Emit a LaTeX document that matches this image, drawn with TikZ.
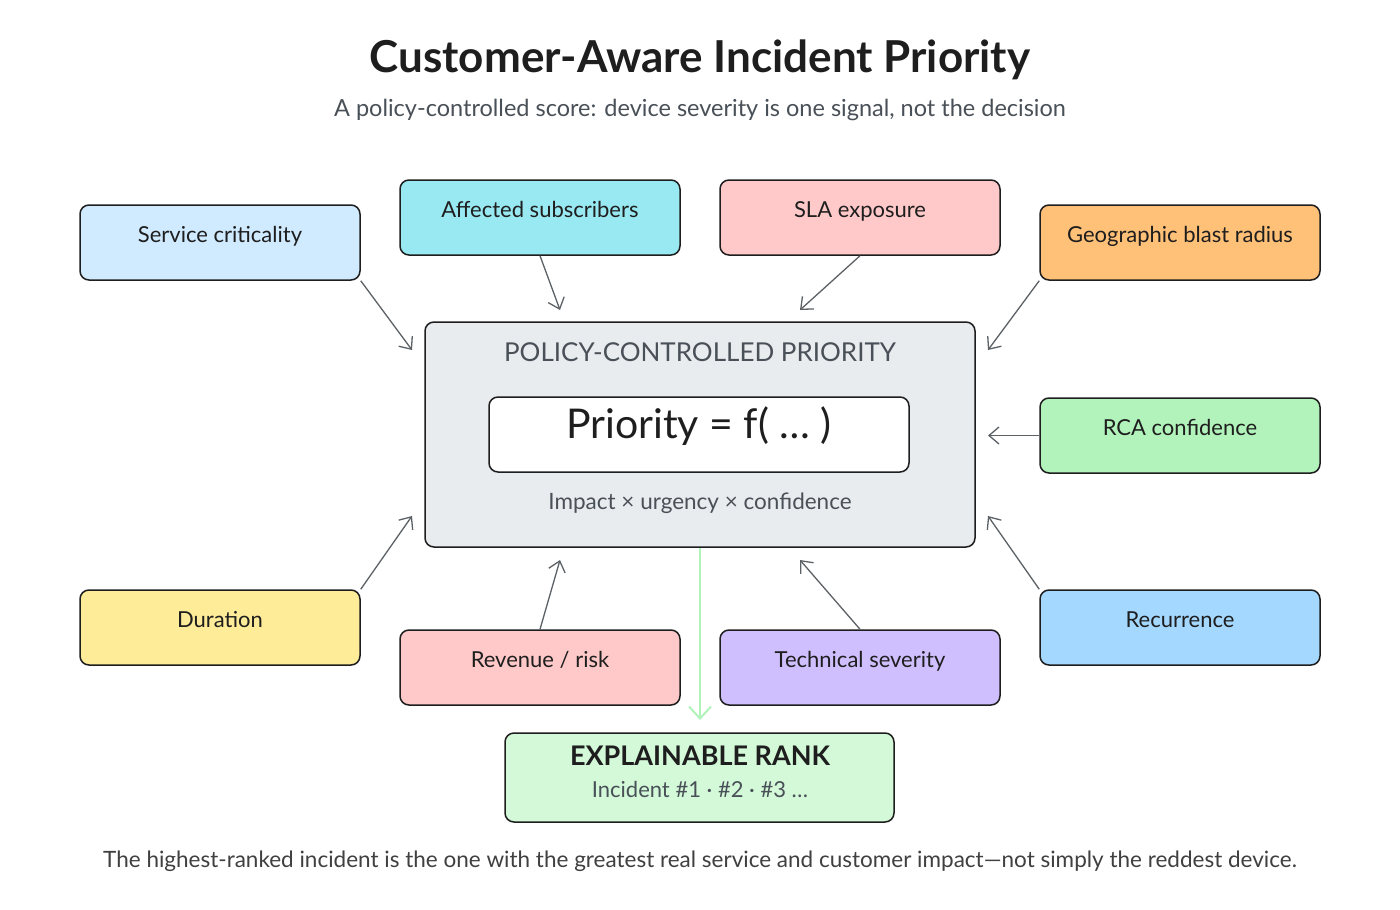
\documentclass[tikz,border=0pt]{standalone}
\usepackage{fontspec}
\setmainfont{Lato}
\usetikzlibrary{positioning,arrows.meta}

\definecolor{ink}{HTML}{1E1E1E}
\definecolor{subgray}{HTML}{495057}
\definecolor{arrowgray}{HTML}{5C6166}
\definecolor{cSvc}{HTML}{D0EBFF}
\definecolor{cAff}{HTML}{99E9F2}
\definecolor{cSla}{HTML}{FFC9C9}
\definecolor{cGeo}{HTML}{FFC078}
\definecolor{cRca}{HTML}{B2F2BB}
\definecolor{cRec}{HTML}{A5D8FF}
\definecolor{cDur}{HTML}{FFEC99}
\definecolor{cRev}{HTML}{FFC9C9}
\definecolor{cTech}{HTML}{D0BFFF}
\definecolor{cMain}{HTML}{E9ECEF}
\definecolor{cRank}{HTML}{D3F9D8}
\definecolor{cFlow}{HTML}{B2F2BB}

\begin{document}
\begin{tikzpicture}[
    x=1pt, y=-1pt,
    every node/.style={font=\fontsize{22}{26}\selectfont, text=ink},
    factor/.style={draw=ink, line width=1.5pt, rounded corners=9pt,
        minimum width=280pt, minimum height=75pt,
        text height=15pt, text depth=15pt, inner sep=0pt},
    feed/.style={draw=arrowgray, line width=1.3pt,
        -{Straight Barb[length=10pt,width=17pt]}}
]

% Canvas
\fill[white] (0,0) rectangle (1400,910);
\useasboundingbox (0,0) rectangle (1400,910);

% Title
\node[anchor=base, font=\fontsize{44}{50}\selectfont\bfseries] (title) at (700,72) {Customer-Aware Incident Priority};
\node[anchor=base, font=\fontsize{23.5}{28}\selectfont, text=subgray] (subtitle) at (700,116) {A policy-controlled score: device severity is one signal, not the decision};

% === Central policy box ===
\node[draw=ink, line width=1.5pt, fill=cMain, rounded corners=9pt,
      minimum width=550pt, minimum height=225pt] (policy) at (700,434.5) {};
\node[anchor=base, font=\fontsize{26}{30}\selectfont, text=subgray] (policyhead) at (700,361) {POLICY-CONTROLLED PRIORITY};
\node[draw=ink, line width=1.5pt, fill=white, rounded corners=9pt,
      minimum width=420pt, minimum height=75pt, inner sep=0pt,
      text height=27pt, text depth=19pt,
      font=\fontsize{41}{46}\selectfont] (formula) at (699,434.5) {Priority = f( … )};
\node[anchor=base, font=\fontsize{22.5}{26}\selectfont, text=subgray] (weights) at (700,509) {Impact × urgency × confidence};

% === Signals (top row) ===
\node[factor, fill=cSvc] (svc) at (220,242.5) {Service criticality};
\node[factor, fill=cAff] (aff) at (540,217.5) {Affected subscribers};
\node[factor, fill=cSla] (sla) at (860,217.5) {SLA exposure};
\node[factor, fill=cGeo] (geo) at (1180,242.5) {Geographic blast radius};

% === Signals (sides) ===
\node[factor, fill=cRca] (rca) at (1180,435.5) {RCA confidence};
\node[factor, fill=cRec] (rec) at (1180,627.5) {Recurrence};
\node[factor, fill=cDur] (dur) at (220,627.5) {Duration};

% === Signals (bottom row) ===
\node[factor, fill=cRev] (rev) at (540,667.5) {Revenue / risk};
\node[factor, fill=cTech] (tech) at (860,667.5) {Technical severity};

% === Output rank ===
\node[draw=ink, line width=1.5pt, fill=cRank, rounded corners=9pt,
      minimum width=389pt, minimum height=89pt] (rank) at (699.5,777.5) {};
\node[anchor=base, font=\fontsize{27}{31}\selectfont\bfseries] (rankhead) at (700,765) {EXPLAINABLE RANK};
\node[anchor=base, font=\fontsize{22}{26}\selectfont, text=subgray] (ranklist) at (700,797) {Incident \#1 · \#2 · \#3 …};

% Footer
\node[anchor=base, font=\fontsize{22.5}{27}\selectfont, text=ink!85] (footer) at (700,867) {The highest-ranked incident is the one with the greatest real service and customer impact—not simply the reddest device.};

% Arrow ends near the policy box
\coordinate (svc-in) at (412,350);
\coordinate (aff-in) at (560,310);
\coordinate (sla-in) at (800,310);
\coordinate (geo-in) at (988,350);
\coordinate (rca-in) at (988,435.5);
\coordinate (rec-in) at (988,516);
\coordinate (dur-in) at (412,516);
\coordinate (rev-in) at (560,560);
\coordinate (tech-in) at (800,560);
\coordinate (rank-in) at (700,720);

% === Feeds into priority ===
\draw[feed] (svc.south east) -- (svc-in);
\draw[feed] (aff.south) -- (aff-in);
\draw[feed] (sla.south) -- (sla-in);
\draw[feed] (geo.south west) -- (geo-in);
\draw[feed] (rca.west) -- (rca-in);
\draw[feed] (rec.north west) -- (rec-in);
\draw[feed] (dur.north east) -- (dur-in);
\draw[feed] (rev.north) -- (rev-in);
\draw[feed] (tech.north) -- (tech-in);

% Priority to rank
\draw[cFlow, line width=2pt, -{Straight Barb[length=12pt,width=22pt]}] (policy.south) -- (rank-in);

\end{tikzpicture}
\end{document}
